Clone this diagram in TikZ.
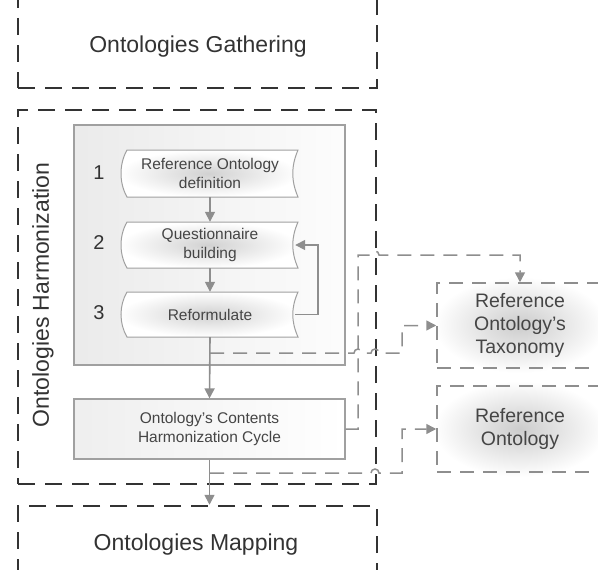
\documentclass[tikz,border=0pt]{standalone}
\usepackage{fontspec}
\setmainfont{Liberation Sans}
\usetikzlibrary{arrows.meta}

\definecolor{frame}{HTML}{333333}
\definecolor{link}{HTML}{8E8E8E}
\definecolor{txt}{HTML}{454545}
\definecolor{edge}{HTML}{A0A0A0}

\tikzset{
  phase/.style={draw=frame, line width=2.5pt, dash pattern=on 17pt off 10pt, inner sep=0pt},
  phaselabel/.style={font=\fontsize{23}{27}\selectfont, text=frame, inner sep=0pt},
  flow/.style={draw=link, line width=1.6pt, -{Triangle[length=10pt,width=10pt]}},
  feed/.style={draw=link, line width=1.5pt, dash pattern=on 14pt off 9pt, -{Triangle[length=10pt,width=10pt]}},
  steplabel/.style={font=\fontsize{15.5}{18.5}\selectfont, text=txt, align=center, inner sep=0pt},
  numlabel/.style={font=\fontsize{20}{23}\selectfont, text=frame, inner sep=0pt},
  panel/.style={draw=edge, line width=1.2pt, inner sep=0pt},
  result/.style={draw=link, line width=1.5pt, dash pattern=on 14pt off 9pt, inner sep=0pt},
  resultlabel/.style={font=\fontsize{19.5}{23}\selectfont, text=txt, align=center, inner sep=0pt},
}

% banner-shaped step outline between two y values
\newcommand\stepbanner[2]{%
  \shadedraw[inner color=gray!36, outer color=white, draw=edge, line width=1pt]
    (127,#1) -- (298,#1)
    .. controls (291,{#1+0.35*(#2-#1)}) and (291,{#2-0.35*(#2-#1)}) .. (298,#2)
    -- (127,#2)
    .. controls (119,{#2-0.3*(#2-#1)}) and (119,{#1+0.3*(#2-#1)}) .. (127,#1) -- cycle;}

\begin{document}
\begin{tikzpicture}[x=1pt,y=-1pt]
\useasboundingbox (0,0) rectangle (598,570);

% phase frames
\node[phase, minimum width=359pt, minimum height=108pt] (gatherbox) at (197.5,34) {};
\node[phaselabel] (gather) at (198,47) {Ontologies Gathering};

\node[phase, minimum width=358pt, minimum height=374pt] (harmbox) at (197,297) {};
\node[phaselabel, rotate=90] (harm) at (43,295) {Ontologies Harmonization};

\node[phase, minimum width=359pt, minimum height=120pt] (mapbox) at (197.5,566) {};
\node[phaselabel] (map) at (196,545) {Ontologies Mapping};

% step group panel
\node[panel, left color=gray!16, right color=gray!2, minimum width=271pt, minimum height=240pt] (group) at (209.5,245) {};

% steps
\stepbanner{150}{197}
\stepbanner{222}{268}
\stepbanner{292}{337}
\node[steplabel, minimum width=170pt, minimum height=47pt] (s1) at (210,173.5) {Reference Ontology\\definition};
\node[steplabel, minimum width=170pt, minimum height=46pt] (s2) at (210,245) {Questionnaire\\building};
\node[steplabel, minimum width=170pt, minimum height=45pt] (s3) at (210,314.5) {Reformulate};

\node[numlabel] (n1) at (99,173) {1};
\node[numlabel] (n2) at (99,243) {2};
\node[numlabel] (n3) at (99,313) {3};

\draw[flow] (s1.south) -- (s2.north);
\draw[flow] (s2.south) -- (s3.north);
\draw[flow] (s3.east) -- ++(23,0) |- (s2.east);

% harmonization cycle
\node[panel, left color=gray!13, right color=white, minimum width=271pt, minimum height=60pt,
      font=\fontsize{15.5}{18.5}\selectfont, text=txt, align=center] (cycle) at (209.5,429)
      {Ontology’s Contents\\Harmonization Cycle};

\draw[flow] (s3.south) -- (cycle.north);
\draw[flow] (cycle.south) -- (cycle.south |- mapbox.north);

% results
\shade[inner color=gray!40, outer color=white] (520,325) ellipse [x radius=86, y radius=48];
\shade[inner color=gray!40, outer color=white] (520,429) ellipse [x radius=86, y radius=48];
\node[result, minimum width=166pt, minimum height=85pt] (tax) at (520,325.5) {};
\node[result, minimum width=166pt, minimum height=86pt] (ref) at (520,429) {};
\node[resultlabel] (taxlabel) at (520,325) {Reference\\Ontology’s\\Taxonomy};
\node[resultlabel] (reflabel) at (520,429) {Reference\\Ontology};

% outputs feeding the results
\coordinate (t1) at (210,353);
\coordinate (t2) at (210,473);
\draw[feed] (t1) -- (354,353) arc[start angle=180, end angle=360, radius=4]
  -- (371,353) arc[start angle=180, end angle=360, radius=4]
  -- (402,353) |- (tax.west);
\draw[feed] (cycle.east) -- (358,429) -- (358,255) -- (371,255)
  arc[start angle=180, end angle=360, radius=4] -| (tax.north);
\draw[feed] (t2) -- (371,473) arc[start angle=180, end angle=360, radius=4]
  -- (402,473) |- (ref.west);
\end{tikzpicture}
\end{document}
